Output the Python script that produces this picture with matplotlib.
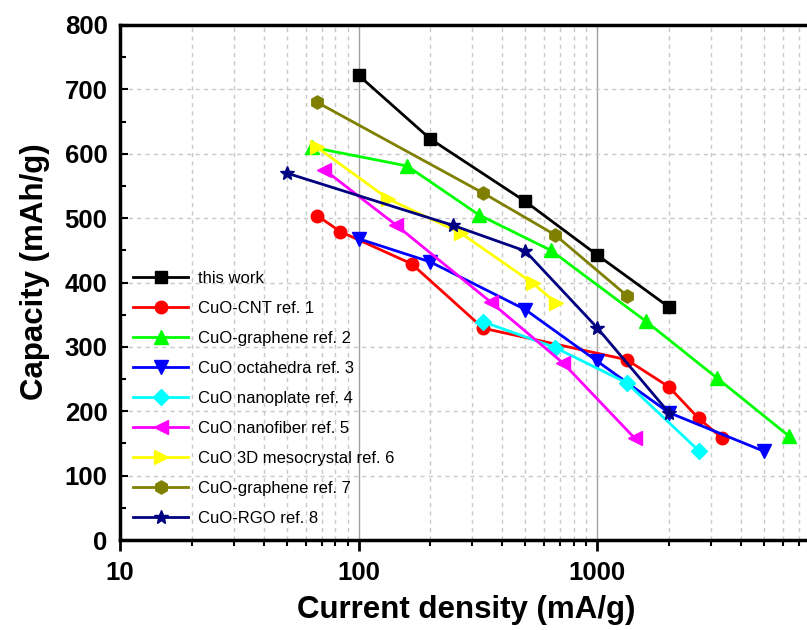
import matplotlib
matplotlib.use("Agg")
import matplotlib.pyplot as plt
from matplotlib.ticker import MultipleLocator, FixedLocator, NullFormatter, FixedFormatter

plt.rcParams['font.family'] = ['Liberation Sans', 'DejaVu Sans']

labels = ["this work", "CuO-CNT ref. 1", "CuO-graphene ref. 2", "CuO octahedra ref. 3",
          "CuO nanoplate ref. 4", "CuO nanofiber ref. 5", "CuO 3D mesocrystal ref. 6",
          "CuO-graphene ref. 7", "CuO-RGO ref. 8"]

x_work = [100, 200, 500, 1000, 2000]
y_work = [722, 623, 526, 443, 362]
x_ref1 = [67, 84, 167, 333, 1333, 2000, 2667, 3333]
y_ref1 = [504, 479, 429, 329, 280, 238, 189, 159]
x_ref2 = [64, 160, 320, 640, 1600, 3200, 6400]
y_ref2 = [610, 581, 505, 450, 340, 251, 161]
x_ref3 = [100, 200, 500, 1000, 2000, 5000]
y_ref3 = [468, 432, 358, 278, 198, 138]
x_ref4 = [333, 667, 1333, 2667]
y_ref4 = [339, 299, 244, 139]
x_ref5 = [72, 144, 360, 720, 1440]
y_ref5 = [575, 489, 369, 275, 158]
x_ref6 = [67, 133, 268, 538, 675]
y_ref6 = [610, 530, 477, 399, 368]
x_ref7 = [67, 333, 667, 1340]
y_ref7 = [680, 539, 474, 379]
x_ref8 = [50, 248, 500, 1000, 2000]
y_ref8 = [570, 489, 449, 330, 198]

xs = [x_work, x_ref1, x_ref2, x_ref3, x_ref4, x_ref5, x_ref6, x_ref7, x_ref8]
ys = [y_work, y_ref1, y_ref2, y_ref3, y_ref4, y_ref5, y_ref6, y_ref7, y_ref8]
colors = ["#000000", "#FF0000", "#00FF00", "#0000FF", "#00FFFF", "#FF00FF", "#FFFF00", "#808000", "#000080"]
markers = ["s", "o", "^", "v", "D", "<", ">", "h", "*"]
msizes = [8.5, 9, 9.5, 9.5, 8, 9.5, 9.5, 9.5, 10.5]

x_major = [10, 100, 1000]
x_major_labels = ["10", "100", "1000"]
y_ticks = [0, 100, 200, 300, 400, 500, 600, 700, 800]

fig = plt.figure(figsize=(8.07, 6.30), dpi=100)
W, H = 807, 630
decade = 238.5
x_left_px, x_right_px = 120, 120 + decade * 3
y_top_px, y_bot_px = 25, 540
ax = fig.add_axes([x_left_px / W, 1 - y_bot_px / H, (x_right_px - x_left_px) / W, (y_bot_px - y_top_px) / H])
ax.set_xscale('log')
ax.set_xlim(10, 10000)
ax.set_ylim(0, 800)

# grid
minor_x = [m * 10**e for e in range(1, 4) for m in range(2, 10)]
for v in minor_x:
    ax.axvline(v, color="#c8c8c8", lw=1.0, ls=(0, (3, 3)), zorder=0)
for v in [100, 1000]:
    ax.axvline(v, color="#a0a0a0", lw=1.0, zorder=0)
for v in y_ticks[1:-1]:
    ax.axhline(v, color="#c8c8c8", lw=1.0, ls=(0, (3, 3)), zorder=0)

for x, y, c, m, ms, lab in zip(xs, ys, colors, markers, msizes, labels):
    ax.plot(x, y, color=c, marker=m, markersize=ms, lw=2.0, label=lab,
            markeredgecolor=c, zorder=3)

ax.xaxis.set_major_locator(FixedLocator(x_major))
ax.xaxis.set_major_formatter(FixedFormatter(x_major_labels))
ax.xaxis.set_minor_locator(FixedLocator(minor_x))
ax.xaxis.set_minor_formatter(NullFormatter())
ax.yaxis.set_major_locator(FixedLocator(y_ticks))
ax.yaxis.set_minor_locator(MultipleLocator(50))

ax.tick_params(axis='x', which='major', direction='out', length=8, width=2, labelsize=18.5, pad=7)
ax.tick_params(axis='x', which='minor', direction='out', length=4, width=1.5)
ax.tick_params(axis='y', which='major', direction='in', length=6, width=1.5, labelsize=18.5, pad=9)
ax.tick_params(axis='y', which='minor', direction='in', length=4, width=1.5)
for lab in ax.get_xticklabels() + ax.get_yticklabels():
    lab.set_fontweight('bold')

for s in ['left', 'bottom', 'top']:
    ax.spines[s].set_linewidth(2.5)
ax.spines['right'].set_visible(False)

fig.text(466 / W, 1 - 610 / H, "Current density (mA/g)", ha='center', va='center',
         fontsize=22.5, fontweight='bold')
fig.text(35 / W, 1 - 272 / H, "Capacity (mAh/g)", ha='center', va='center',
         fontsize=22.5, fontweight='bold', rotation=90)

leg = ax.legend(loc='upper left', bbox_to_anchor=(133 / W, 1 - 271 / H), bbox_transform=fig.transFigure,
                frameon=False, fontsize=12, handlelength=3.3, labelspacing=0.9,
                handletextpad=0.6, borderpad=0, borderaxespad=0)

fig.savefig("out.png", dpi=100)
